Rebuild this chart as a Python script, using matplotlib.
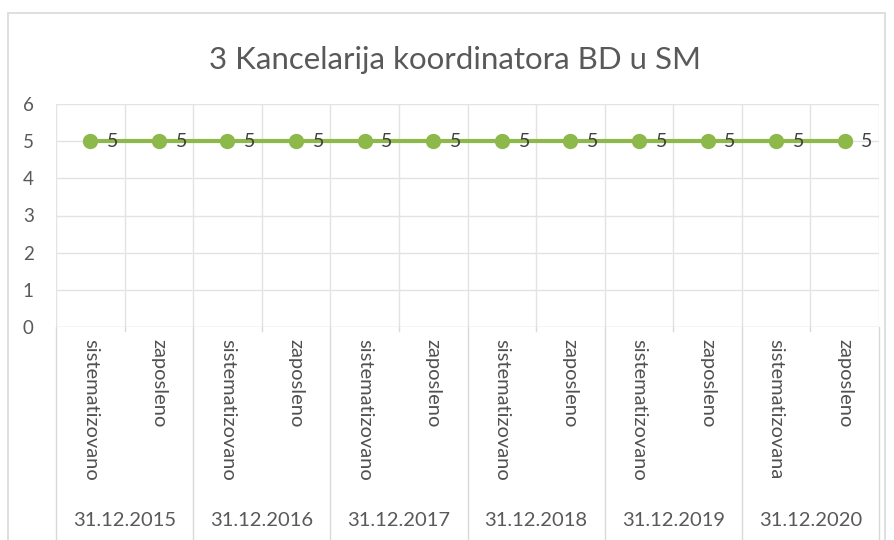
import matplotlib
matplotlib.use("Agg")
import matplotlib.pyplot as plt
from matplotlib.patches import Rectangle
import matplotlib.transforms as mtransforms

title = "3 Kancelarija koordinatora BD u SM"
groups = ["31.12.2015", "31.12.2016", "31.12.2017", "31.12.2018", "31.12.2019", "31.12.2020"]
subcats = [["sistematizovano", "zaposleno"]] * 5 + [["sistematizovana", "zaposleno"]]
values = [5, 5, 5, 5, 5, 5, 5, 5, 5, 5, 5, 5]
yticks = [0, 1, 2, 3, 4, 5, 6]

plt.rcParams['font.family'] = ['Lato', 'DejaVu Sans']
W, H = 894, 540
fig = plt.figure(figsize=(W / 100, H / 100), dpi=100)
fig.patch.set_facecolor('white')

# outer chart border
fig.patches.append(Rectangle((8 / W, -0.05), (885 - 8) / W, 1.05 - 13 / H,
                             transform=fig.transFigure, fill=False,
                             edgecolor='#d9d9d9', linewidth=1.2))

left, right, top, bottom = 56, 879, 104, 327
ax = fig.add_axes([left / W, 1 - bottom / H, (right - left) / W, (bottom - top) / H])
n = len(values)
x = list(range(n))
ax.set_xlim(-0.5, n - 0.5)
ax.set_ylim(0, 6)
for s in ax.spines.values():
    s.set_visible(False)
ax.set_yticks(yticks)
ax.tick_params(axis='y', length=0, labelsize=13.5, labelcolor='#595959', pad=16)
ax.set_xticks([])
grid_c = '#e3e3e3'
for yv in yticks:
    ax.axhline(yv, color=grid_c if yv else '#d0d0d0', lw=1, zorder=0)
for b in range(n + 1):
    ax.axvline(b - 0.5, color=grid_c, lw=1, zorder=0)

green = '#8db84a'
ax.plot(x, values, color=green, lw=3, marker='o', markersize=10,
        markerfacecolor=green, markeredgecolor=green, zorder=3)
for xi, v in zip(x, values):
    ax.annotate(str(v), (xi, v), xytext=(12, 0), textcoords='offset points',
                ha='left', va='center', fontsize=14, color='#404040', zorder=4)

# category axis (multi-level)
trans = mtransforms.blended_transform_factory(ax.transData, ax.transAxes)
ax_h = bottom - top
below = lambda px: -px / ax_h
# group separators
for g in range(len(groups) + 1):
    xb = 2 * g - 0.5
    ax.plot([xb, xb], [0, below(215)], transform=trans, color='#d9d9d9', lw=1, clip_on=False)
# small ticks within groups
for g in range(len(groups)):
    xb = 2 * g + 0.5
    ax.plot([xb, xb], [0, below(4)], transform=trans, color='#d9d9d9', lw=1, clip_on=False)
i = 0
for g, (gname, subs) in enumerate(zip(groups, subcats)):
    for s in subs:
        ax.text(i, below(12), s, transform=trans, rotation=-90, ha='center', va='top',
                fontsize=14.5, color='#505050')
        i += 1
    ax.text(2 * g + 0.5, below(194), gname, transform=trans, ha='center', va='center',
            fontsize=14.5, color='#595959')

fig.text(455 / W, 1 - 60 / H, title, ha='center', va='center', fontsize=22.5, color='#595959')

fig.savefig('out.png', dpi=100, facecolor='white')
